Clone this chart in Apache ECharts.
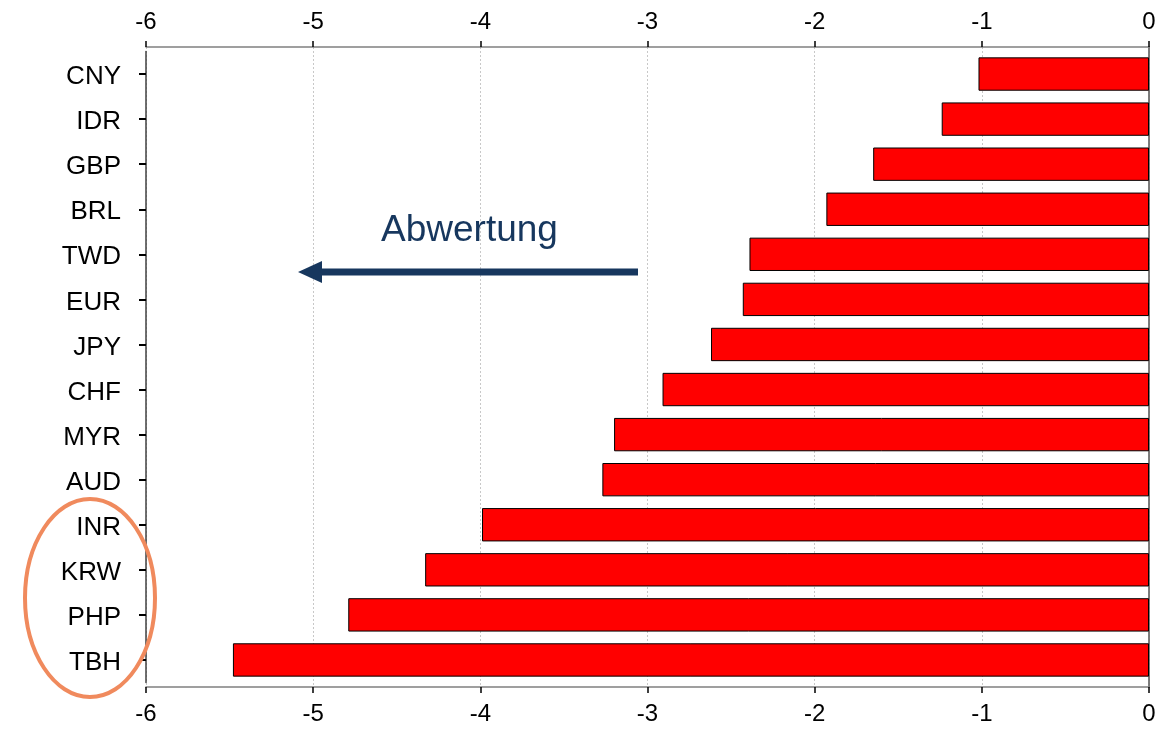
<!DOCTYPE html>
<html>
<head>
<meta charset="utf-8">
<script src="https://cdn.jsdelivr.net/npm/echarts@6/dist/echarts.min.js"></script>
<style>html,body{margin:0;padding:0;background:#fff;}#c{width:1173px;height:729px;}</style>
</head>
<body>
<div id="c"></div>
<script>
const categories = ['CNY','IDR','GBP','BRL','TWD','EUR','JPY','CHF','MYR','AUD','INR','KRW','PHP','TBH'];
const values = [-1.02,-1.24,-1.65,-1.93,-2.39,-2.43,-2.62,-2.91,-3.20,-3.27,-3.99,-4.33,-4.79,-5.48];
const xTicks = [-6,-5,-4,-3,-2,-1,0];
const annotationText = 'Abwertung';

const FONT = '"Liberation Sans", Arial, sans-serif';
const chart = echarts.init(document.getElementById('c'), null, {renderer: 'canvas'});

const valueAxisBase = {
  type: 'value', min: xTicks[0], max: xTicks[xTicks.length - 1], interval: 1,
  axisLine: {show: true, onZero: false, lineStyle: {color: '#808080', width: 1.5}},
  axisTick: {show: true, length: 6, lineStyle: {color: '#000', width: 1.5}},
  axisLabel: {color: '#000', fontSize: 24, fontFamily: FONT},
  splitLine: {show: false}
};

chart.setOption({
  animation: false,
  backgroundColor: '#fff',
  grid: [
    {left: 146, right: 24, top: 47, bottom: 42},
    {left: 146, right: 24, top: 51.5, bottom: 46.5}
  ],
  xAxis: [
    Object.assign({}, valueAxisBase, {gridIndex: 0, position: 'top',
      axisLabel: Object.assign({}, valueAxisBase.axisLabel, {margin: 13}),
      splitLine: {show: true, lineStyle: {color: '#c8c8c8', type: [2, 2], width: 1}}}),
    Object.assign({}, valueAxisBase, {gridIndex: 0, position: 'bottom',
      axisLabel: Object.assign({}, valueAxisBase.axisLabel, {margin: 15})}),
    {type: 'value', gridIndex: 1, min: xTicks[0], max: xTicks[xTicks.length - 1], show: false}
  ],
  yAxis: [
    {type: 'value', gridIndex: 0, position: 'left', min: 0, max: 1,
      axisLine: {show: true, lineStyle: {color: '#404040', width: 1.5}},
      axisTick: {show: false}, axisLabel: {show: false}, splitLine: {show: false}},
    {type: 'value', gridIndex: 0, position: 'right', min: 0, max: 1,
      axisLine: {show: true, lineStyle: {color: '#808080', width: 1.5}},
      axisTick: {show: false}, axisLabel: {show: false}, splitLine: {show: false}},
    {type: 'category', gridIndex: 1, data: categories, inverse: true, position: 'left',
      axisLine: {show: true, onZero: false, lineStyle: {color: '#404040', width: 1.5}},
      axisTick: {show: true, inside: false, alignWithLabel: true, interval: 0, length: 7, lineStyle: {color: '#000', width: 2}},
      axisLabel: {color: '#000', fontSize: 26, fontFamily: FONT, margin: 25, interval: 0,
        formatter: function (v) { return '{a|' + v + '}'; },
        rich: {a: {color: '#000', fontSize: 26, fontFamily: FONT, padding: [6, 0, 0, 0]}}},
      splitLine: {show: false}}
  ],
  series: [{
    type: 'bar', xAxisIndex: 2, yAxisIndex: 2, data: values,
    barCategoryGap: '26%',
    itemStyle: {color: '#ff0000', borderColor: '#000', borderWidth: 1}
  }],
  graphic: [
    {type: 'text', left: 381, top: 212, z: 100,
      style: {text: annotationText, fill: '#17375e', font: '37px ' + FONT}},
    {type: 'rect', z: 100, shape: {x: 318, y: 268.5, width: 320, height: 7}, style: {fill: '#17375e'}},
    {type: 'polygon', z: 100, shape: {points: [[298, 272], [322, 261], [322, 283]]}, style: {fill: '#17375e'}},
    {type: 'ellipse', z: 100, shape: {cx: 90, cy: 598, rx: 65, ry: 99},
      style: {fill: 'none', stroke: '#f08a5d', lineWidth: 4}}
  ]
});
</script>
</body>
</html>
